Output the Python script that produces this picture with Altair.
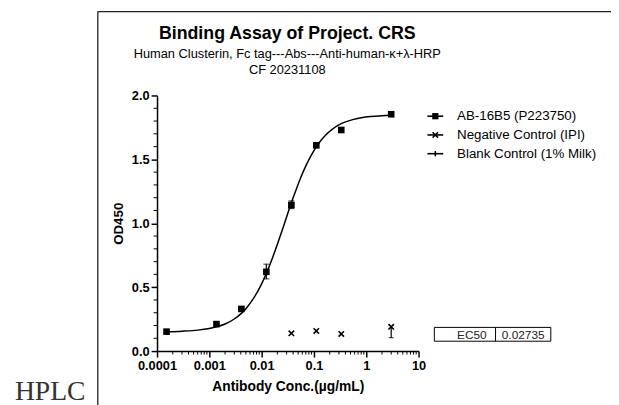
import altair as alt
import pandas as pd

# ---------------- data ----------------
ab_conc = [0.000152, 0.00137, 0.0041, 0.0123, 0.037, 0.111, 0.333, 3.0]
ab_od = [0.152, 0.211, 0.33, 0.62, 1.143, 1.61, 1.73, 1.853]
ab_err_conc = [0.0123, 0.037]
ab_err_lo = [0.565, 1.115]
ab_err_hi = [0.68, 1.175]

neg_conc = [0.037, 0.111, 0.333, 3.0]
neg_od = [0.139, 0.158, 0.134, 0.19]
neg_err_conc = [3.0]
neg_err_lo = [0.105]
neg_err_hi = [0.19]

curve_conc = [0.00015, 0.0003, 0.0006, 0.001, 0.0015, 0.002, 0.003, 0.004, 0.005,
              0.007, 0.01, 0.0123, 0.015, 0.02, 0.025, 0.03, 0.037, 0.045, 0.055,
              0.07, 0.085, 0.1, 0.13, 0.17, 0.22, 0.3, 0.4, 0.55, 0.8, 1.2, 2.0, 3.0]
curve_od = [0.152, 0.156, 0.164, 0.177, 0.194, 0.212, 0.251, 0.291, 0.332,
            0.412, 0.526, 0.607, 0.695, 0.836, 0.952, 1.049, 1.16, 1.256, 1.35,
            1.449, 1.518, 1.569, 1.638, 1.693, 1.733, 1.77, 1.793, 1.811, 1.825,
            1.835, 1.842, 1.845]

x_major = [0.0001, 0.001, 0.01, 0.1, 1, 10]
x_minor = [m * d for d in [0.0001, 0.001, 0.01, 0.1, 1] for m in range(2, 10)]
y_major = [0.0, 0.5, 1.0, 1.5, 2.0]
y_minor = [v / 10 for v in range(1, 20) if v % 5 != 0]

legend_labels = ["AB-16B5 (P223750)", "Negative Control (IPI)", "Blank Control (1% Milk)"]
title_text = "Binding Assay of Project. CRS"
subtitle_lines = ["Human Clusterin, Fc tag---Abs---Anti-human-\u03ba+\u03bb-HRP", "CF 20231108"]
ec50_label = "EC50"
ec50_value = "0.02735"
side_text = "HPLC"

# ---------------- helpers ----------------
SANS = "Liberation Sans"
SERIF = "Liberation Serif"
one = pd.DataFrame({"k": [0]})

XS = alt.Scale(type="log", domain=[0.0001, 10])
YS = alt.Scale(domain=[0, 2], nice=False)
XAX = alt.Axis(values=x_major, labelExpr="format(datum.value, '~g')", title="Antibody Conc.(\u00b5g/mL)",
               grid=False, tickSize=6, tickWidth=1.5, tickColor="black", domainColor="black",
               domainWidth=1.5, labelColor="black", labelFont=SANS, labelFontSize=13,
               labelFontWeight="bold", labelPadding=3, titleFont=SANS, titleFontSize=14,
               titleFontWeight="bold", titleColor="black", titlePadding=7, labelFlush=False,
               labelOverlap=False)
YAX = alt.Axis(values=y_major, format=".1f", title="OD450", grid=False, tickSize=6, tickWidth=1.5,
               tickColor="black", domainColor="black", domainWidth=1.5, labelColor="black",
               labelFont=SANS, labelFontSize=13, labelFontWeight="bold", labelPadding=2,
               titleFont=SANS, titleFontSize=13.5, titleFontWeight="bold", titleColor="black",
               titlePadding=6, labelFlush=False, labelOverlap=False)


def X(field):
    return alt.X(f"{field}:Q", scale=XS, axis=XAX)


def Y(field):
    return alt.Y(f"{field}:Q", scale=YS, axis=YAX)


def txt(s, x, y, size, weight="normal", align="left", baseline="alphabetic", font=SANS, color="black"):
    return alt.Chart(one).mark_text(text=s, align=align, baseline=baseline, fontSize=size,
                                    fontWeight=weight, font=font, color=color).encode(
        x=alt.value(x), y=alt.value(y))


def vrule(x, y1, y2, w=1.5, color="black"):
    return alt.Chart(one).mark_rule(color=color, strokeWidth=w).encode(
        x=alt.value(x), y=alt.value(y1), y2=alt.value(y2))


def hrule(x1, x2, y, w=1.5, color="black"):
    return alt.Chart(one).mark_rule(color=color, strokeWidth=w).encode(
        x=alt.value(x1), x2=alt.value(x2), y=alt.value(y))


XSHAPE = "M-1,-1L1,1M-1,1L1,-1"
PLUS_V = "M0,-1L0,1"

ab_df = pd.DataFrame({"conc": ab_conc, "od": ab_od})
ab_err = pd.DataFrame({"conc": ab_err_conc, "od": ab_err_lo, "hi": ab_err_hi})
neg_df = pd.DataFrame({"conc": neg_conc, "od": neg_od})
neg_err = pd.DataFrame({"conc": neg_err_conc, "od": neg_err_lo, "hi": neg_err_hi})
curve_df = pd.DataFrame({"conc": curve_conc, "od": curve_od})
xminor_df = pd.DataFrame({"conc": x_minor})
yminor_df = pd.DataFrame({"od": y_minor})

curve = alt.Chart(curve_df).mark_line(color="black", strokeWidth=1.5, interpolate="monotone").encode(
    x=X("conc"), y=Y("od"))

ab_bar = alt.Chart(ab_err).mark_rule(color="black", strokeWidth=1.2).encode(
    x=X("conc"), y=Y("od"), y2="hi:Q")
ab_cap_lo = alt.Chart(ab_err).mark_tick(color="black", orient="horizontal", size=6, thickness=1.2).encode(
    x=X("conc"), y=Y("od"))
ab_cap_hi = alt.Chart(ab_err).mark_tick(color="black", orient="horizontal", size=6, thickness=1.2).encode(
    x=X("conc"), y=alt.Y("hi:Q", scale=YS, axis=YAX))
ab_pts = alt.Chart(ab_df).mark_point(shape="square", filled=True, size=45, color="black", opacity=1).encode(
    x=X("conc"), y=Y("od"))

neg_bar = alt.Chart(neg_err).mark_rule(color="black", strokeWidth=1.2).encode(
    x=X("conc"), y=Y("od"), y2="hi:Q")
neg_cap = alt.Chart(neg_err).mark_tick(color="black", orient="horizontal", size=5, thickness=1.2).encode(
    x=X("conc"), y=Y("od"))
neg_pts = alt.Chart(neg_df).mark_point(shape=XSHAPE, filled=False, size=30, color="black",
                                       strokeWidth=1.6, opacity=1).encode(x=X("conc"), y=Y("od"))

xminor = alt.Chart(xminor_df).mark_rule(color="black", strokeWidth=1).encode(
    x=X("conc"), y=alt.value(259), y2=alt.value(262.5))
yminor = alt.Chart(yminor_df).mark_rule(color="black", strokeWidth=1).encode(
    y=Y("od"), x=alt.value(0), x2=alt.value(-3.5))

# ---------------- decorations ----------------
deco = [
    # page frame from the screenshot
    vrule(-60, -85, 320, w=1.3, color="#222"),
    hrule(-60, 470, -85, w=1.3, color="#222"),
    txt(side_text, -144, 309, 28, font=SERIF, color="#333"),
    # titles
    txt(title_text, 132, -57, 18, weight="bold", align="center"),
    txt(subtitle_lines[0], 132, -38, 13, align="center"),
    txt(subtitle_lines[1], 132, -22, 13, align="center"),
]

leg_y = [21, 40, 59]
for i, lab in enumerate(legend_labels):
    deco.append(hrule(274, 290, leg_y[i], w=1.6))
    deco.append(txt(lab, 304, leg_y[i], 13.5, baseline="middle"))
deco.append(alt.Chart(one).mark_point(shape="square", filled=True, size=40, color="black", opacity=1).encode(
    x=alt.value(282), y=alt.value(leg_y[0])))
deco.append(alt.Chart(one).mark_point(shape=XSHAPE, filled=False, size=30, color="black", strokeWidth=1.6,
                                      opacity=1).encode(x=alt.value(282), y=alt.value(leg_y[1])))
deco.append(alt.Chart(one).mark_point(shape=PLUS_V, filled=False, size=30, color="black", strokeWidth=1.6,
                                      opacity=1).encode(x=alt.value(282), y=alt.value(leg_y[2])))

# EC50 box
deco.append(alt.Chart(one).mark_rect(fill="white", stroke="black", strokeWidth=1).encode(
    x=alt.value(281), x2=alt.value(399), y=alt.value(235), y2=alt.value(249)))
deco.append(vrule(343, 235, 249, w=1))
deco.append(txt(ec50_label, 334, 242.5, 12, align="right", baseline="middle", color="#222"))
deco.append(txt(ec50_value, 371, 242.5, 12, align="center", baseline="middle", color="#222"))

chart = alt.layer(curve, xminor, yminor, ab_bar, ab_cap_lo, ab_cap_hi, ab_pts, neg_bar, neg_cap, neg_pts,
                  *deco).properties(
    width=265, height=259,
    autosize=alt.AutoSizeParams(type="none"),
    padding={"left": 151, "top": 86, "right": 195, "bottom": 52},
    background="white",
).configure_view(strokeWidth=0)

chart.save("out.html", embed_options={"renderer": "svg", "actions": False})
